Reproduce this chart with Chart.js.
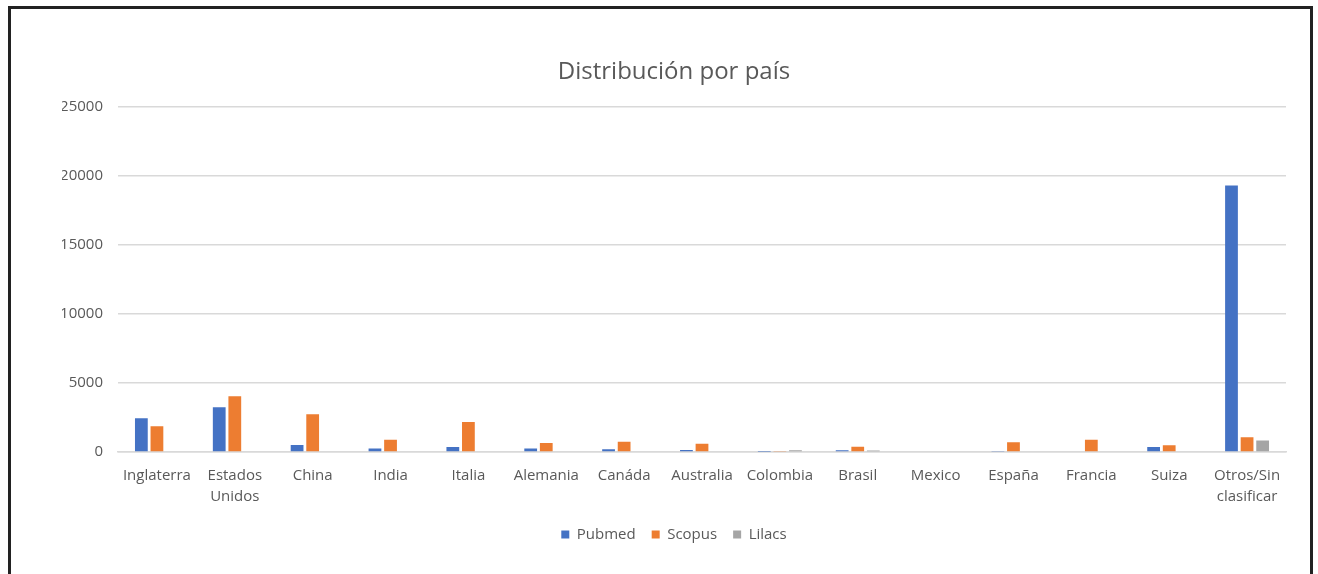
<!DOCTYPE html>
<html>
<head>
<meta charset="utf-8">
<script src="https://cdn.jsdelivr.net/npm/chart.js@4.4.0/dist/chart.umd.min.js"></script>
<style>
  html, body { margin: 0; padding: 0; background: #fff; overflow: hidden; }
  #wrap { position: absolute; left: 0; top: 0; width: 1318px; height: 574px; }
  #frame { position: absolute; left: 8px; top: 6px; width: 1305px; height: 600px;
           border: 3px solid #222; box-sizing: border-box; pointer-events: none; }
</style>
</head>
<body>
<div id="wrap"><canvas id="chart" width="1318" height="574"></canvas></div>
<div id="frame"></div>
<script>
// ── Data ───────────────────────────────────────────────────────────────
const paises = ['Inglaterra', ['Estados', 'Unidos'], 'China', 'India', 'Italia', 'Alemania',
  'Canáda', 'Australia', 'Colombia', 'Brasil', 'Mexico', 'España', 'Francia', 'Suiza',
  ['Otros/Sin', 'clasificar']];
const pubmed = [2450, 3240, 500, 250, 360, 260, 200, 150, 20, 130, 0, 80, 0, 360, 19300];
const scopus = [1870, 4030, 2740, 890, 2180, 650, 740, 600, 30, 380, 0, 700, 890, 480, 1060];
const lilacs = [0, 0, 0, 0, 0, 0, 0, 0, 120, 100, 0, 0, 0, 0, 840];

const TXT = '#595959';
Chart.defaults.color = TXT;
Chart.defaults.font.family = "'Open Sans', sans-serif";
Chart.defaults.font.size = 15;

new Chart(document.getElementById('chart').getContext('2d'), {
  type: 'bar',
  data: {
    labels: paises,
    datasets: [
      { label: 'Pubmed', data: pubmed, backgroundColor: '#4472C4' },
      { label: 'Scopus', data: scopus, backgroundColor: '#ED7D31' },
      { label: 'Lilacs', data: lilacs, backgroundColor: '#A5A5A5' },
    ]
  },
  options: {
    responsive: false,
    animation: false,
    categoryPercentage: 0.6,
    barPercentage: 0.82,
    layout: { padding: { left: 62, right: 32, top: 58, bottom: 22 } },
    plugins: {
      title: {
        display: true,
        text: 'Distribución por país',
        color: TXT,
        font: { size: 24, weight: 'normal' },
        padding: { top: 0, bottom: 20 }
      },
      legend: {
        position: 'bottom',
        labels: { boxWidth: 8, boxHeight: 8, padding: 16, font: { size: 15 } }
      },
      tooltip: { enabled: false }
    },
    scales: {
      x: {
        afterFit(scale) { scale.height -= 9; },
        grid: { display: false, drawTicks: false },
        border: { color: '#d9d9d9', width: 1.5 },
        ticks: { padding: 13, maxRotation: 0, autoSkip: false, font: { size: 15, lineHeight: 1.4 } }
      },
      y: {
        min: 0, max: 25000,
        afterFit(scale) { scale.width = 56; },
        grid: { color: '#d9d9d9', lineWidth: 1.5, drawTicks: false },
        border: { display: false },
        ticks: { stepSize: 5000, padding: 15, callback: v => String(v) }
      }
    }
  }
});
</script>
</body>
</html>
